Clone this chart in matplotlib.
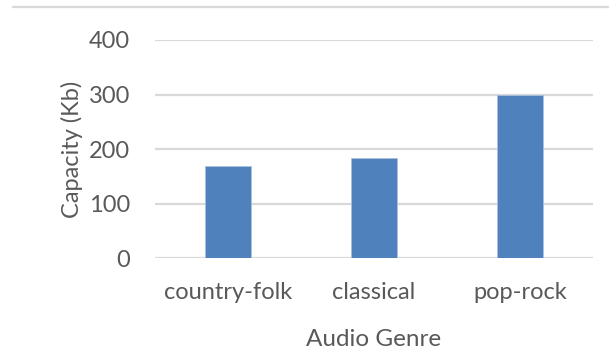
import matplotlib
matplotlib.use('Agg')
import matplotlib.pyplot as plt
from matplotlib.lines import Line2D

genres = ['country-folk', 'classical', 'pop-rock']
capacity = [170, 183, 300]
yticks = [0, 100, 200, 300, 400]

plt.rcParams['font.family'] = ['Lato', 'DejaVu Sans']
txt = '#595959'

fig = plt.figure(figsize=(6.09, 3.5), dpi=100)
ax = fig.add_axes([155/609, 1 - 258.3/350, 438/609, 218.3/350])

ax.bar(range(len(genres)), capacity, width=0.31, color='#4F81BD',
       edgecolor='#A9C0E0', linewidth=0.6, zorder=3)
ax.set_xlim(-0.5, len(genres) - 0.5)
ax.set_ylim(0, 400)
ax.set_yticks(yticks)
ax.yaxis.grid(True, color='#D9D9D9', linewidth=1.6, zorder=0)
ax.set_xticks(range(len(genres)))
ax.set_xticklabels(genres)
ax.tick_params(axis='both', length=0, labelsize=17, colors=txt)
ax.tick_params(axis='x', pad=17)
ax.tick_params(axis='y', pad=18)
for s in ax.spines.values():
    s.set_visible(False)
ax.set_xlabel('Audio Genre', fontsize=17.5, color=txt, labelpad=19)
ax.set_ylabel('Capacity (Kb)', fontsize=17, color=txt, labelpad=4)

# chart border remnant at the top
fig.add_artist(Line2D([13/609, 608/609], [1 - 7/350, 1 - 7/350],
                      transform=fig.transFigure, color='#D9D9D9', linewidth=1.6))

fig.savefig('out.png', dpi=100)
